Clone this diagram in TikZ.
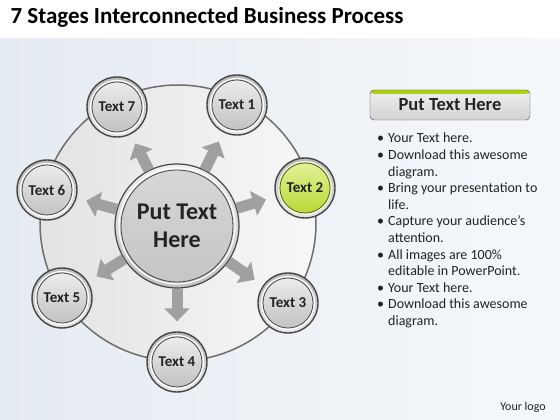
\documentclass[tikz,border=0pt]{standalone}
\usepackage{fontspec}
\setmainfont{Carlito}
\usetikzlibrary{shapes, arrows.meta, positioning}

\definecolor{bgleft}{RGB}{229,235,242}
\definecolor{bgright}{RGB}{245,248,251}
\definecolor{ringedge}{RGB}{70,70,70}
\definecolor{wheeledge}{RGB}{110,110,110}
\definecolor{spokegray}{RGB}{160,160,160}
\definecolor{limegreen}{RGB}{172,210,20}
\definecolor{limelight}{RGB}{225,242,150}
\definecolor{limedark}{RGB}{150,190,20}
\definecolor{textdark}{RGB}{35,35,35}

\newcommand{\bul}{\makebox[11pt][l]{\textbullet}}
\newcommand{\nobul}{\hspace*{11pt}}

\begin{document}
\begin{tikzpicture}[
        x=1pt, y=1pt,
        wheel/.style={
            circle,
            draw=wheeledge,
            line width=1.5pt,
            left color=gray!22,
            right color=gray!6,
            minimum size=276pt,
            inner sep=0pt
        },
        hub/.style={
            circle,
            draw=ringedge,
            line width=1.2pt,
            top color=gray!12,
            bottom color=gray!50,
            minimum size=124pt,
            inner sep=0pt,
            align=center,
            text=textdark,
            font=\bfseries\fontsize{24}{28}\selectfont,
            path picture={
                \draw[white, line width=1.2pt]
                    (path picture bounding box.center) circle (58pt);
                \draw[gray!55!black, line width=0.8pt, top color=gray!32,
                    middle color=gray!58, bottom color=gray!45]
                    (path picture bounding box.center) circle (56pt);
            }
        },
        stage/.style={
            circle,
            draw=ringedge,
            line width=1.4pt,
            top color=gray!55,
            bottom color=gray!18,
            minimum size=60pt,
            inner sep=0pt,
            text=textdark,
            font=\bfseries\fontsize{15}{17}\selectfont,
            path picture={
                \draw[white, line width=1.2pt]
                    (path picture bounding box.center) circle (26.5pt);
                \draw[gray!50!black, line width=0.7pt, top color=gray!15,
                    middle color=gray!72, bottom color=gray!48]
                    (path picture bounding box.center) circle (25pt);
            }
        },
        lime/.style={
            path picture={
                \draw[white!80!limegreen, line width=1.2pt]
                    (path picture bounding box.center) circle (26.5pt);
                \draw[limedark!50!black, line width=0.7pt, top color=limelight,
                    middle color=limegreen, bottom color=limegreen!85!white]
                    (path picture bounding box.center) circle (25pt);
            }
        },
        header/.style={
            rectangle,
            rounded corners=4pt,
            draw=gray!60!black,
            top color=gray!12,
            bottom color=gray!35,
            minimum width=160pt,
            minimum height=30pt,
            text=textdark,
            font=\bfseries\fontsize{18.5}{22}\selectfont,
            path picture={
                \fill[limegreen] (path picture bounding box.north west)
                    rectangle ([yshift=-4pt]path picture bounding box.north east);
            }
        },
        spoke/.style={
            draw=spokegray,
            line width=11pt,
            -{Triangle[length=13pt, width=25pt]},
            shorten >=10pt
        }
    ]
        % Background
        \useasboundingbox (0,0) rectangle (560,420);
        \shade[left color=bgleft, right color=bgright] (0,0) rectangle (560,381);

        % Nodes
        \node [anchor=base west, text=black, font=\bfseries\fontsize{23}{27}\selectfont]
            (title) at (7,396) {7 Stages Interconnected Business Process};

        \node [wheel] (wheel) at (178,197) {};
        \node [hub] (hub) at (177,194) {Put Text\\Here};

        \node [stage] (stage1) at (237,315) {Text 1};
        \node [stage, lime] (stage2) at (305,232) {Text 2};
        \node [stage] (stage3) at (288,117) {Text 3};
        \node [stage] (stage4) at (177,58) {Text 4};
        \node [stage] (stage5) at (62,122) {Text 5};
        \node [stage] (stage6) at (47,230) {Text 6};
        \node [stage] (stage7) at (117,313) {Text 7};

        \node [header] (heading) at (450,315) {Put Text Here};
        \node [anchor=north west, inner sep=0pt, align=left, text=textdark,
            font=\fontsize{14}{16.6}\selectfont]
            (notes) at (377,287) {%
                \bul Your Text here.\\
                \bul Download this awesome\\
                \nobul diagram.\\
                \bul Bring your presentation to\\
                \nobul life.\\
                \bul Capture your audience’s\\
                \nobul attention.\\
                \bul All images are 100\%\\
                \nobul editable in PowerPoint.\\
                \bul Your Text here.\\
                \bul Download this awesome\\
                \nobul diagram.};

        \node [text=textdark, font=\fontsize{12}{14}\selectfont] (logo) at (523,13) {Your logo};

        % Paths
        \path [spoke] (hub) -- (stage1);
        \path [spoke] (hub) -- (stage2);
        \path [spoke] (hub) -- (stage3);
        \path [spoke] (hub) -- (stage4);
        \path [spoke] (hub) -- (stage5);
        \path [spoke] (hub) -- (stage6);
        \path [spoke] (hub) -- (stage7);

    \end{tikzpicture}
\end{document}
